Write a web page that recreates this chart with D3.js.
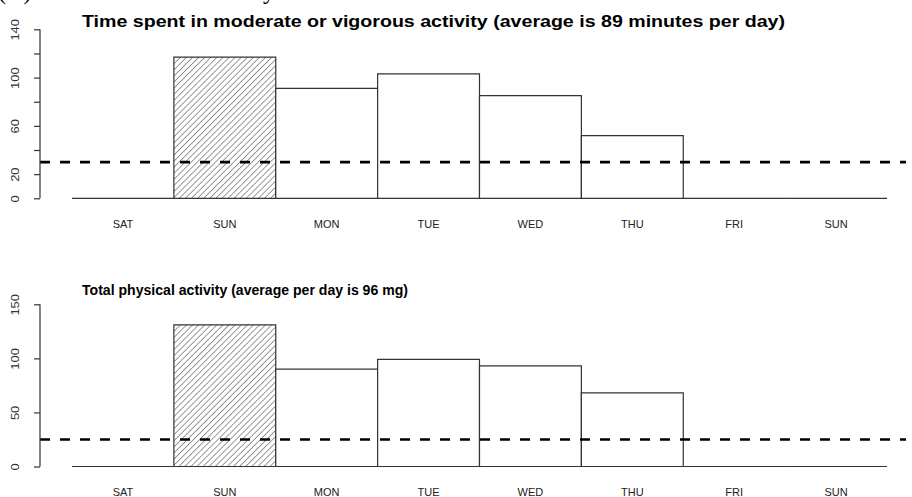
<!DOCTYPE html>
<html>
<head>
<meta charset="utf-8">
<script src="https://cdn.jsdelivr.net/npm/d3@7"></script>
<style>
  html, body { margin: 0; padding: 0; background: #fff; }
  svg { display: block; }
  .axis path, .axis line { stroke: #333; stroke-width: 1.2; }
  .axis text { font-family: "Liberation Sans", Arial, sans-serif; font-size: 11.5px; fill: #333; }
</style>
</head>
<body>
<script>
// Days of the recording week (the last day repeats SUN)
const days = ["SAT", "SUN", "MON", "TUE", "WED", "THU", "FRI", "SUN"];
// Minutes of moderate or vigorous activity per day
const mvpaMinutes = [0, 117, 91, 103, 85, 52, 0, 0];
// Average acceleration per day (mg)
const totalMg = [0, 131, 90, 99, 93, 68, 0, 0];
// Index of the highlighted (hatched) day
const highlightDay = 1;
// Reference lines
const mvpaThreshold = 30;
const mgThreshold = 25;
// Axis ticks and which of them carry labels
const mvpaTicks = [0, 20, 40, 60, 80, 100, 120, 140];
const mvpaTickLabels = [0, 20, 60, 100, 140];
const mgTicks = [0, 50, 100, 150];
const mgTickLabels = [0, 50, 100, 150];

const W = 912, H = 497;
const svg = d3.select("body").append("svg").attr("width", W).attr("height", H);

// Diagonal hatching for the highlighted bar
const defs = svg.append("defs");
const pat = defs.append("pattern")
  .attr("id", "hatch")
  .attr("patternUnits", "userSpaceOnUse")
  .attr("width", 4.3).attr("height", 4.3)
  .attr("patternTransform", "rotate(45)");
pat.append("line")
  .attr("x1", 0).attr("y1", -1).attr("x2", 0).attr("y2", 5.3)
  .attr("stroke", "#333").attr("stroke-width", 1);

// Panel caption running off the top edge
svg.append("text")
  .attr("x", -2).attr("y", -1)
  .attr("font-family", "'Liberation Serif', 'Times New Roman', serif")
  .attr("font-size", 26)
  .attr("fill", "#000")
  .attr("textLength", 277)
  .attr("lengthAdjust", "spacingAndGlyphs")
  .text("(A) Accelerometer summary");

const x = d3.scaleBand().domain(d3.range(days.length)).range([72, 887]).padding(0);

function panel(opts) {
  const y = d3.scaleLinear().domain(opts.domain).range(opts.range);
  const g = svg.append("g");

  // Title
  g.append("text")
    .attr("x", 82).attr("y", opts.titleY)
    .attr("font-family", "'Liberation Sans', Arial, sans-serif")
    .attr("font-weight", "bold")
    .attr("font-size", opts.titleSize)
    .attr("fill", "#000")
    .attr("textLength", opts.titleWidth)
    .attr("lengthAdjust", "spacingAndGlyphs")
    .text(opts.title);

  // Bars (paths so that zero-height bars still draw as a line)
  g.selectAll("path.bar")
    .data(opts.values)
    .join("path")
    .attr("class", "bar")
    .attr("d", (v, i) => {
      const x0 = x(i), x1 = x(i) + x.bandwidth();
      const y0 = y(0), y1 = y(v);
      return `M${x0},${y0}V${y1}H${x1}V${y0}Z`;
    })
    .attr("fill", (v, i) => i === highlightDay ? "url(#hatch)" : "#fff")
    .attr("stroke", "#333")
    .attr("stroke-width", 1.2);

  // Threshold line
  g.append("line")
    .attr("x1", 40).attr("x2", 906)
    .attr("y1", y(opts.threshold)).attr("y2", y(opts.threshold))
    .attr("stroke", "#000")
    .attr("stroke-width", 2.6)
    .attr("stroke-dasharray", "10,10");

  // Y axis with rotated labels
  const ax = g.append("g")
    .attr("class", "axis")
    .attr("transform", "translate(40,0)")
    .call(d3.axisLeft(y)
      .tickValues(opts.ticks)
      .tickSize(6)
      .tickSizeOuter(0)
      .tickFormat(d => opts.tickLabels.includes(d) ? d : ""));
  ax.select(".domain").attr("d", `M0,${y(opts.ticks[0])}V${y(opts.ticks[opts.ticks.length - 1])}`);
  ax.selectAll(".tick text")
    .attr("x", 0).attr("y", 0)
    .attr("dy", "0.36em")
    .attr("text-anchor", "middle")
    .attr("transform", "translate(-25,0) rotate(-90)")
    .each(function () {
      const n = this.textContent.length;
      if (n) d3.select(this).attr("textLength", n * 7.2).attr("lengthAdjust", "spacingAndGlyphs");
    });

  // Day labels
  g.selectAll("text.day")
    .data(days)
    .join("text")
    .attr("class", "day")
    .attr("x", (d, i) => x(i) + x.bandwidth() / 2)
    .attr("y", opts.dayY)
    .attr("text-anchor", "middle")
    .attr("font-family", "'Liberation Sans', Arial, sans-serif")
    .attr("font-size", 11)
    .attr("fill", "#222")
    .text(d => d);
}

panel({
  title: "Time spent in moderate or vigorous activity (average is 89 minutes per day)",
  titleY: 27,
  titleSize: 16,
  titleWidth: 703,
  values: mvpaMinutes,
  domain: [0, 140],
  range: [198.3, 29.3],
  threshold: mvpaThreshold,
  ticks: mvpaTicks,
  tickLabels: mvpaTickLabels,
  dayY: 227.5
});

panel({
  title: "Total physical activity (average per day is 96 mg)",
  titleY: 295,
  titleSize: 14.5,
  titleWidth: 326,
  values: totalMg,
  domain: [0, 150],
  range: [466.5, 304.3],
  threshold: mgThreshold,
  ticks: mgTicks,
  tickLabels: mgTickLabels,
  dayY: 495.5
});
</script>
</body>
</html>
